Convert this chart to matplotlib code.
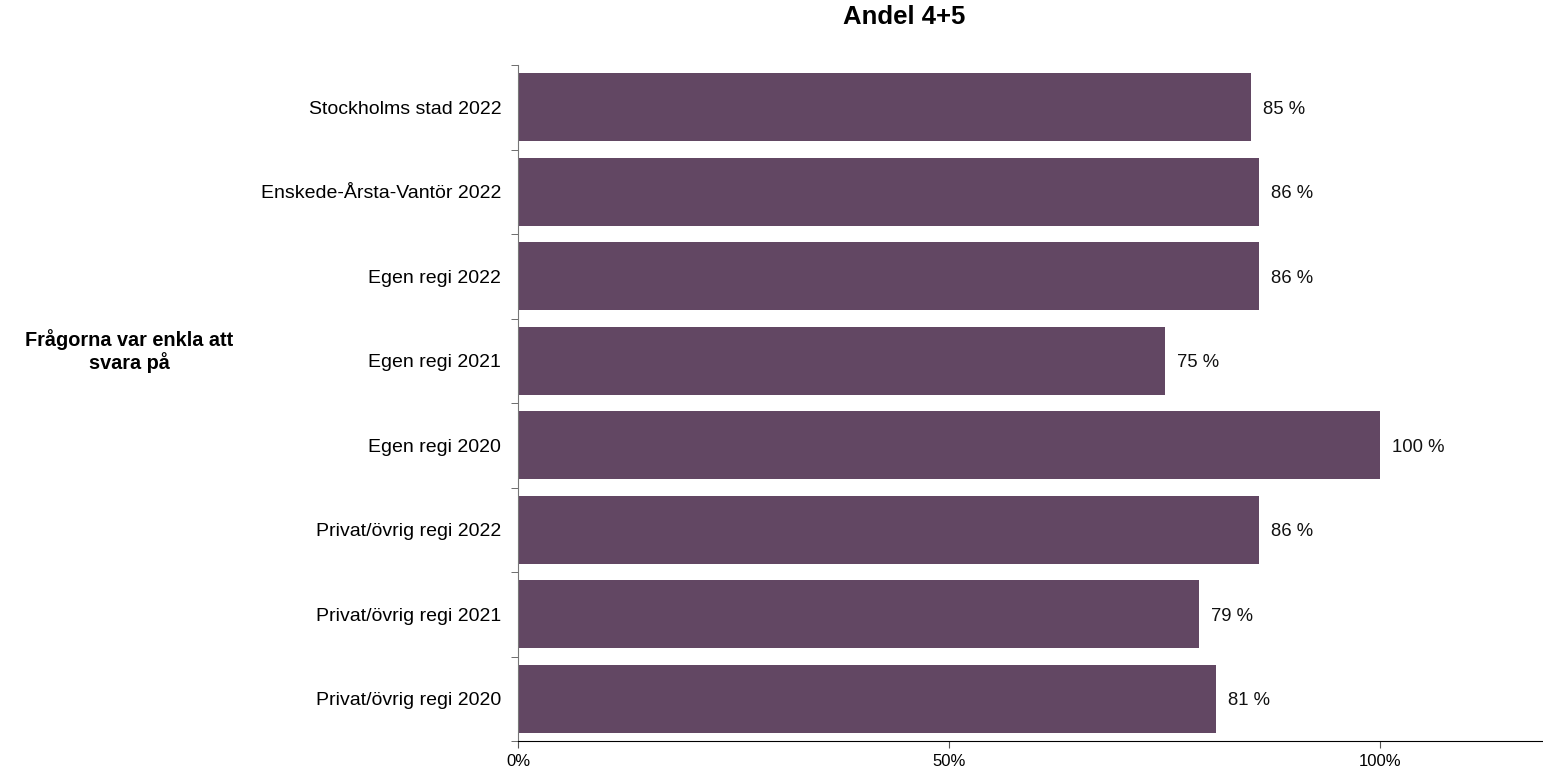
import numpy as np
import matplotlib as mpl
mpl.use('Agg')
import matplotlib.pyplot as plt

plt.rcParams['font.family'] = ['Liberation Sans', 'DejaVu Sans']

categories = [
    "Stockholms stad 2022",
    "Enskede-Årsta-Vantör 2022",
    "Egen regi 2022",
    "Egen regi 2021",
    "Egen regi 2020",
    "Privat/övrig regi 2022",
    "Privat/övrig regi 2021",
    "Privat/övrig regi 2020",
]
values = [85, 86, 86, 75, 100, 86, 79, 81]
value_labels = ["85 %", "86 %", "86 %", "75 %", "100 %", "86 %", "79 %", "81 %"]
xticks = [0, 50, 100]
xtick_labels = ["0%", "50%", "100%"]
group_label = "Frågorna var enkla att\nsvara på"
title = "Andel 4+5"

bar_color = '#624763'

fig = plt.figure(figsize=(15.43, 7.72), dpi=100)
ax = fig.add_axes([518 / 1543, 31 / 772, 1 - 518 / 1543, (741 - 65) / 772])

n = len(categories)
y = np.arange(n)
ax.barh(y, values, height=0.8, color=bar_color)
ax.set_ylim(n - 0.5, -0.5)
ax.set_xlim(0, 118.9)

for yi, v, lab in zip(y, values, value_labels):
    ax.text(v + 1.4, yi, lab, va='center_baseline', ha='left', fontsize=13.3, color='#111111')

ax.set_yticks(y)
ax.set_yticklabels(categories, fontsize=14)
ax.tick_params(axis='y', which='major', length=0, pad=12)
ax.set_yticks(np.arange(n + 1) - 0.5, minor=True)
ax.tick_params(axis='y', which='minor', length=5, color='#555555', direction='out')

ax.set_xticks(xticks)
ax.set_xticklabels(xtick_labels, fontsize=12)
ax.tick_params(axis='x', length=5, color='#555555', pad=4)

for s in ['top', 'right']:
    ax.spines[s].set_visible(False)
ax.spines['left'].set_color('#777777')
ax.spines['bottom'].set_color('#000000')

fig.text(904 / 1543, 1 - 17 / 772, title, ha='center', va='center',
         fontsize=18.5, fontweight='bold')
fig.text(129 / 1543, 1 - 351 / 772, group_label, ha='center', va='center',
         fontsize=14.3, fontweight='bold', linespacing=1.15)

fig.savefig('out.png', dpi=100)
